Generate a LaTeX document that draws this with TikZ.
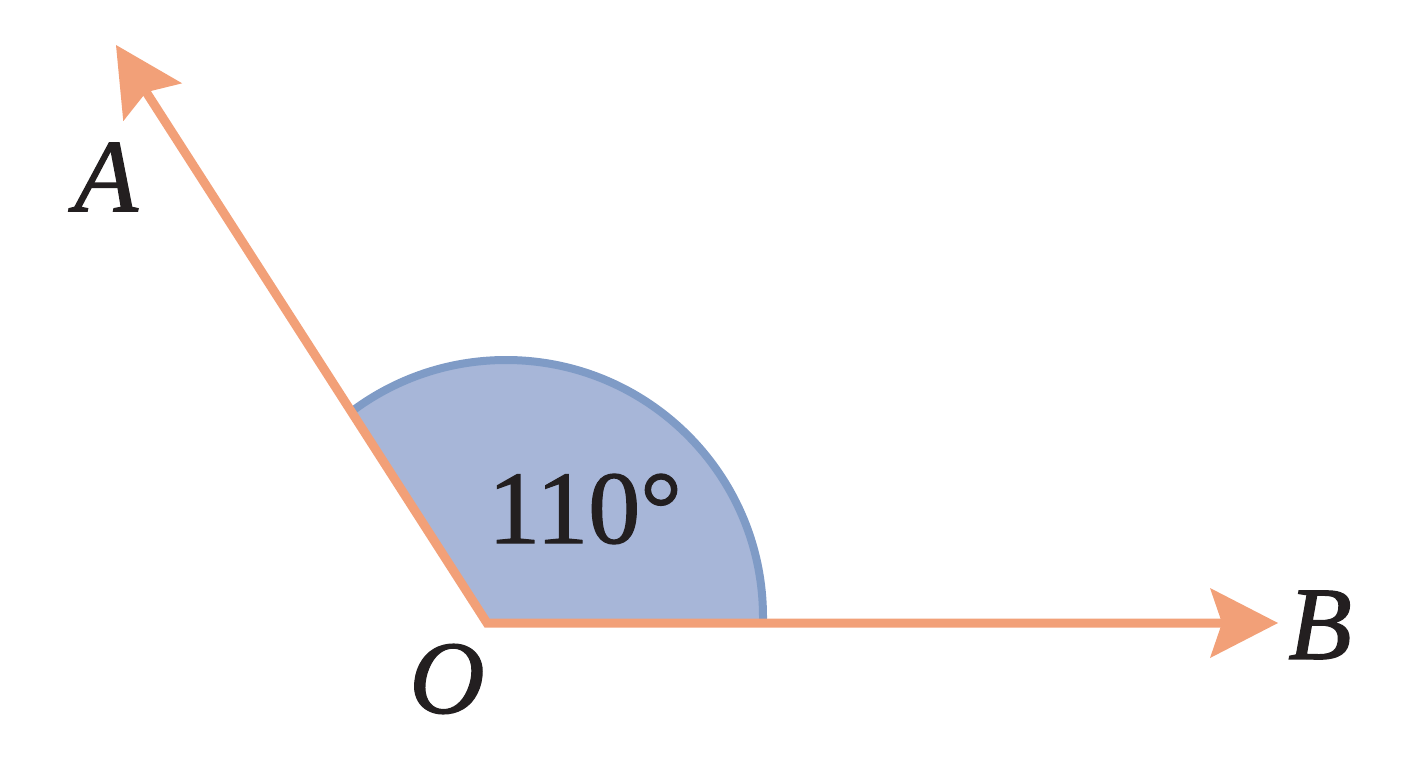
\documentclass[tikz,border=0pt]{standalone}
\usepackage{fontspec}
\setmainfont{Liberation Serif}
\newfontface\labitfont{Liberation Serif Italic}[FakeBold=1.2]
\newfontface\labupfont{Liberation Serif}[FakeBold=1.2]
\usetikzlibrary{arrows.meta}
\definecolor{raycol}{HTML}{F2A078}
\definecolor{sectorfillcol}{HTML}{A7B6D8}
\definecolor{sectorlinecol}{HTML}{7F9BC6}
\definecolor{textcol}{HTML}{231F20}
\tikzset{
  rayline/.style={draw=raycol, line width=4.5pt, line join=miter,
    {Stealth[length=34pt,width=35pt,inset=6pt,line width=0pt]}-{Stealth[length=34pt,width=35pt,inset=6pt,line width=0pt]}},
  sectorfill/.style={fill=sectorfillcol},
  sectorline/.style={draw=sectorlinecol, line width=4pt},
  lab/.style={inner sep=0pt, text=textcol, font=\fontsize{52}{60}\labitfont},
  anglelab/.style={inner sep=0pt, text=textcol, font=\fontsize{52}{60}\labupfont}
}
\begin{document}
\begin{tikzpicture}[x=0.5pt,y=0.5pt]
\useasboundingbox (0,0) rectangle (1408,768);
\coordinate (O) at (487,145);
\coordinate (A) at (116,723);
\coordinate (B) at (1278,145);
\coordinate (C) at (506,151);
\begin{scope}
  \clip (O) -- (A) -- (1408,723) -- (1408,145) -- cycle;
  \fill[sectorfill] (C) circle[radius=257];
  \draw[sectorline] (C) circle[radius=257];
\end{scope}
\draw[rayline] (A) -- (O) -- (B);
\node[lab] (Alab) at (106,591) {A};
\node[lab] (Blab) at (1320,143) {B};
\node[lab] (Olab) at (447,89) {O};
\node[anglelab] (ang) at (585,259) {110°};
\end{tikzpicture}
\end{document}
